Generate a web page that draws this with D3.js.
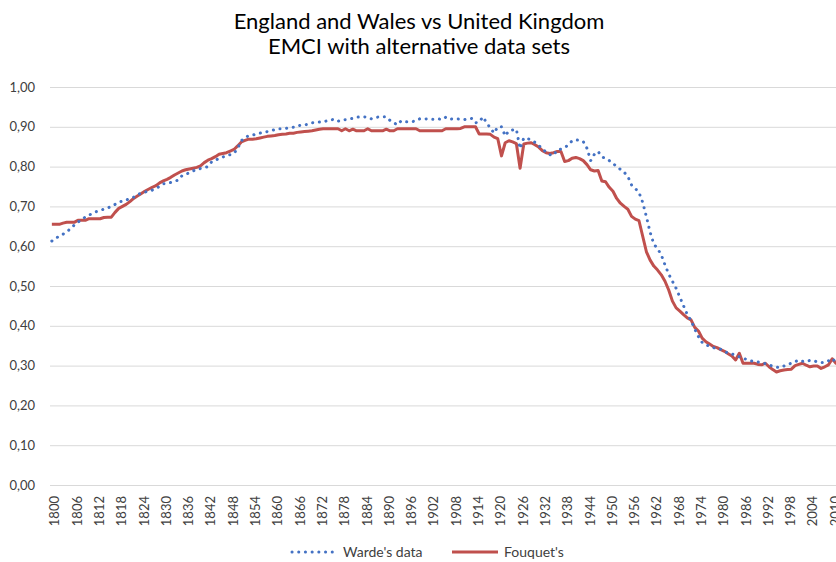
<!DOCTYPE html>
<html>
<head>
<meta charset="utf-8">
<script src="https://cdn.jsdelivr.net/npm/d3@7"></script>
<style>
  body { margin: 0; background: #fff; }
  svg { display: block; font-family: Lato, "Open Sans", sans-serif; }
</style>
</head>
<body>
<svg width="836" height="562"></svg>
<script>
/* data */
var titleLines = ["England and Wales vs United Kingdom", "EMCI with alternative data sets"];
var firstYear = 1800;
var yTicks = [0, 0.1, 0.2, 0.3, 0.4, 0.5, 0.6, 0.7, 0.8, 0.9, 1.0];
var seriesNames = ["Warde's data", "Fouquet's"];

// one value per year, starting 1800
var warde = [
  0.613, 0.620, 0.625, 0.630, 0.637, 0.643, 0.653, 0.660, 0.667, 0.673,
  0.678, 0.683, 0.687, 0.690, 0.693, 0.696, 0.700, 0.705, 0.711, 0.713,
  0.716, 0.720, 0.723, 0.729, 0.733, 0.736, 0.738, 0.741, 0.746, 0.750,
  0.757, 0.758, 0.760, 0.763, 0.766, 0.777, 0.780, 0.785, 0.789, 0.793,
  0.795, 0.797, 0.800, 0.812, 0.816, 0.820, 0.824, 0.827, 0.830, 0.833,
  0.846, 0.865, 0.874, 0.877, 0.879, 0.882, 0.884, 0.886, 0.888, 0.890,
  0.893, 0.895, 0.895, 0.896, 0.898, 0.899, 0.902, 0.904, 0.904, 0.907,
  0.910, 0.911, 0.912, 0.912, 0.915, 0.917, 0.919, 0.914, 0.917, 0.918,
  0.920, 0.921, 0.924, 0.925, 0.925, 0.924, 0.920, 0.923, 0.925, 0.925,
  0.925, 0.916, 0.910, 0.905, 0.915, 0.913, 0.912, 0.913, 0.915, 0.920,
  0.919, 0.920, 0.919, 0.919, 0.920, 0.918, 0.924, 0.919, 0.920, 0.920,
  0.919, 0.918, 0.920, 0.921, 0.910, 0.912, 0.925, 0.910, 0.897, 0.884,
  0.900, 0.900, 0.877, 0.890, 0.892, 0.894, 0.845, 0.872, 0.871, 0.866,
  0.861, 0.853, 0.845, 0.836, 0.830, 0.828, 0.842, 0.844, 0.848, 0.854,
  0.865, 0.867, 0.866, 0.863, 0.846, 0.815, 0.831, 0.838, 0.825, 0.820,
  0.815, 0.808, 0.800, 0.793, 0.786, 0.775, 0.754, 0.745, 0.735, 0.710,
  0.674, 0.635, 0.605, 0.594, 0.578, 0.553, 0.530, 0.512, 0.494, 0.472,
  0.450, 0.428, 0.413, 0.392, 0.373, 0.358, 0.352, 0.349, 0.345, 0.343,
  0.341, 0.336, 0.331, 0.329, 0.327, 0.322, 0.319, 0.315, 0.312, 0.310,
  0.309, 0.308, 0.305, 0.302, 0.298, 0.296, 0.295, 0.299, 0.302, 0.306,
  0.310, 0.314, 0.311, 0.310, 0.313, 0.313, 0.309, 0.308, 0.308, 0.312,
  0.318, 0.308, 0.310
];

var fouquet = [
  0.655, 0.655, 0.655, 0.658, 0.660, 0.660, 0.660, 0.665, 0.665, 0.665,
  0.669, 0.669, 0.669, 0.669, 0.672, 0.673, 0.673, 0.685, 0.695, 0.700,
  0.705, 0.712, 0.720, 0.726, 0.732, 0.738, 0.743, 0.748, 0.752, 0.759,
  0.764, 0.768, 0.773, 0.779, 0.784, 0.789, 0.792, 0.794, 0.796, 0.798,
  0.802, 0.810, 0.816, 0.820, 0.825, 0.831, 0.833, 0.835, 0.839, 0.843,
  0.852, 0.862, 0.866, 0.869, 0.869, 0.870, 0.872, 0.874, 0.876, 0.877,
  0.878, 0.880, 0.881, 0.882, 0.884, 0.884, 0.886, 0.887, 0.888, 0.889,
  0.890, 0.892, 0.894, 0.895, 0.895, 0.895, 0.895, 0.895, 0.890, 0.895,
  0.890, 0.894, 0.890, 0.890, 0.890, 0.895, 0.890, 0.890, 0.890, 0.890,
  0.894, 0.890, 0.890, 0.895, 0.895, 0.895, 0.895, 0.895, 0.895, 0.890,
  0.890, 0.890, 0.890, 0.890, 0.890, 0.890, 0.895, 0.895, 0.895, 0.895,
  0.896, 0.900, 0.900, 0.900, 0.900, 0.882, 0.882, 0.882, 0.881, 0.874,
  0.870, 0.827, 0.860, 0.865, 0.862, 0.858, 0.796, 0.857, 0.859, 0.860,
  0.855, 0.849, 0.840, 0.835, 0.833, 0.835, 0.838, 0.838, 0.813, 0.815,
  0.821, 0.823, 0.820, 0.815, 0.805, 0.792, 0.789, 0.790, 0.764, 0.762,
  0.748, 0.738, 0.720, 0.708, 0.700, 0.693, 0.675, 0.668, 0.664, 0.625,
  0.586, 0.565, 0.550, 0.540, 0.528, 0.512, 0.490, 0.462, 0.445, 0.437,
  0.428, 0.420, 0.415, 0.396, 0.387, 0.369, 0.360, 0.354, 0.348, 0.345,
  0.340, 0.336, 0.330, 0.324, 0.314, 0.331, 0.306, 0.306, 0.306, 0.306,
  0.303, 0.302, 0.306, 0.297, 0.290, 0.284, 0.287, 0.289, 0.290, 0.291,
  0.300, 0.303, 0.306, 0.301, 0.297, 0.299, 0.299, 0.293, 0.297, 0.302,
  0.317, 0.306, 0.310
];

var colors = ["#4472C4", "#C0504D"];

/* layout */
var svg = d3.select("svg");
var plot = { left: 50, top: 87, bottom: 485, step: 3.716 };

// the plot area runs off the right edge of the picture, as in the original
var years = d3.range(firstYear, firstYear + 217);
var labelYears = years.filter(function (y) { return (y - firstYear) % 6 === 0; });

var x = d3.scaleBand()
  .domain(years)
  .range([plot.left, plot.left + years.length * plot.step])
  .padding(0);
var y = d3.scaleLinear().domain([0, 1]).range([plot.bottom, plot.top]);

var fmt = function (v) { return d3.format(".2f")(v).replace(".", ","); };
var cx = function (yr) { return x(yr) + x.bandwidth() / 2; };

/* title */
svg.append("g").selectAll("text")
  .data(titleLines)
  .join("text")
  .attr("x", 419)
  .attr("y", function (d, i) { return 29 + i * 25; })
  .attr("text-anchor", "middle")
  .attr("font-size", 22)
  .attr("fill", "#000")
  .text(function (d) { return d; });

/* gridlines + y labels */
var yAxis = d3.axisLeft(y)
  .tickValues(yTicks)
  .tickSize(-(years.length * plot.step))
  .tickFormat(fmt);

svg.append("g")
  .attr("transform", "translate(" + plot.left + ",0)")
  .call(yAxis)
  .call(function (g) {
    g.select(".domain").remove();
    g.selectAll(".tick line").attr("stroke", "#d9d9d9").attr("stroke-width", 1);
    g.selectAll(".tick text")
      .attr("x", -15)
      .attr("font-family", "Lato, sans-serif")
      .attr("font-size", 13)
      .attr("fill", "#404040");
  });

/* x labels, every 6th year, rotated */
var xAxis = d3.axisBottom(x)
  .tickValues(labelYears)
  .tickSize(0);

svg.append("g")
  .attr("transform", "translate(0," + plot.bottom + ")")
  .call(xAxis)
  .call(function (g) {
    g.select(".domain").remove();
    g.selectAll(".tick text")
      .attr("font-family", "Lato, sans-serif")
      .attr("font-size", 13)
      .attr("fill", "#404040")
      .attr("text-anchor", "end")
      .attr("transform", "translate(3,11) rotate(-90)")
      .attr("x", 0)
      .attr("y", 0)
      .attr("dy", "0.35em");
  });

/* lines */
var line = d3.line()
  .x(function (d, i) { return cx(firstYear + i); })
  .y(function (d) { return y(d); });

svg.append("path")
  .datum(fouquet)
  .attr("d", line)
  .attr("fill", "none")
  .attr("stroke", colors[1])
  .attr("stroke-width", 3)
  .attr("stroke-linejoin", "round");

svg.append("path")
  .datum(warde)
  .attr("d", line)
  .attr("fill", "none")
  .attr("stroke", colors[0])
  .attr("stroke-width", 3)
  .attr("stroke-linecap", "round")
  .attr("stroke-dasharray", "0.1 6.6");

/* legend */
var legend = svg.append("g").attr("transform", "translate(0,552)");
var legendItems = [
  { name: seriesNames[0], x0: 292, x1: 337, dash: "0.1 6.6", cap: "round" },
  { name: seriesNames[1], x0: 452, x1: 498, dash: null, cap: "butt" }
];
legendItems.forEach(function (d, i) {
  legend.append("line")
    .attr("x1", d.x0).attr("x2", d.x1)
    .attr("y1", 0).attr("y2", 0)
    .attr("stroke", colors[i])
    .attr("stroke-width", 3)
    .attr("stroke-linecap", d.cap)
    .attr("stroke-dasharray", d.dash);
  legend.append("text")
    .attr("x", d.x1 + 6)
    .attr("y", 0)
    .attr("dy", "0.35em")
    .attr("font-size", 14)
    .attr("fill", "#404040")
    .text(d.name);
});
</script>
</body>
</html>
